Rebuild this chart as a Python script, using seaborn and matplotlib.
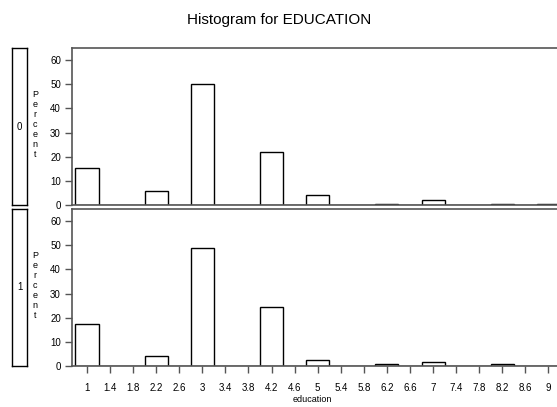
import numpy as np
import pandas as pd
import matplotlib
matplotlib.use("Agg")
import matplotlib.pyplot as plt
import seaborn as sns

# bin midpoints that carry data, and percent per panel
education = [1, 2.2, 3, 4.2, 5, 6.2, 7, 8.2, 9]
pct_0 = [15.4, 5.7, 50.3, 21.9, 4.0, 0.6, 1.9, 0.6, 0.3]
pct_1 = [17.2, 4.1, 48.7, 24.3, 2.6, 1.0, 1.5, 0.7, 0.0]
panels = ["0", "1"]
tick_vals = [round(1 + 0.4 * i, 1) for i in range(21)]
tick_labels = [("%g" % v) for v in tick_vals]

df = pd.concat([
    pd.DataFrame({"education": education, "pct": pct_0, "panel": "0"}),
    pd.DataFrame({"education": education, "pct": pct_1, "panel": "1"}),
])

sns.set_style("white")
plt.rcParams["font.family"] = ["Liberation Sans", "DejaVu Sans"]
plt.rcParams["text.color"] = "black"
plt.rcParams["xtick.labelcolor"] = "black"
plt.rcParams["ytick.labelcolor"] = "black"

W, H = 557, 407
fig = plt.figure(figsize=(W / 100, H / 100), dpi=100)

def fx(px):
    return px / W

def fy(py):
    return 1 - py / H

frame = "#555555"
boxes = [(48, 205), (209, 366)]

for i, (p, (top, bot)) in enumerate(zip(panels, boxes)):
    ax = fig.add_axes([fx(72), fy(bot), fx(568) - fx(72), fy(top) - fy(bot)])
    sub = df[df["panel"] == p].reset_index(drop=True)
    sns.histplot(data=sub, x="education", weights="pct", binwidth=0.4,
                 binrange=(0.8, 9.2), ax=ax, color="white", edgecolor="black",
                 linewidth=1, alpha=1)
    ax.set_xlim(0.74, 9.34)
    ax.set_ylim(0, 65)
    ax.set_yticks(range(0, 61, 10))
    ax.tick_params(axis="y", direction="out", length=5, width=1, color=frame,
                   labelsize=7, pad=3, left=True)
    for s in ax.spines.values():
        s.set_color(frame)
        s.set_linewidth(1.2)
    ax.set_ylabel("")
    ax.set_xlabel("")
    if i == 0:
        ax.set_xticks([])
    else:
        ax.set_xticks(tick_vals)
        ax.set_xticklabels(tick_labels)
        ax.tick_params(axis="x", direction="out", length=5, width=1, color=frame,
                       labelsize=7, pad=7, bottom=True)

    # strip box on the left
    sax = fig.add_axes([fx(12), fy(bot), fx(27) - fx(12), fy(top) - fy(bot)])
    sax.set_xticks([])
    sax.set_yticks([])
    for s in sax.spines.values():
        s.set_color("black")
        s.set_linewidth(1)
    sax.text(0.5, 0.5, p, ha="center", va="center", fontsize=7,
             transform=sax.transAxes)

    fig.text(fx(35), fy((top + bot) / 2 - 2), "\n".join("Percent"), ha="center",
             va="center", fontsize=6.5, linespacing=1.15)

fig.text(fx(312), fy(400), "education", ha="center", va="center", fontsize=6.5)
fig.text(fx(279), fy(20), "Histogram for EDUCATION", ha="center", va="center",
         fontsize=11)

fig.savefig("out.png", dpi=100)
